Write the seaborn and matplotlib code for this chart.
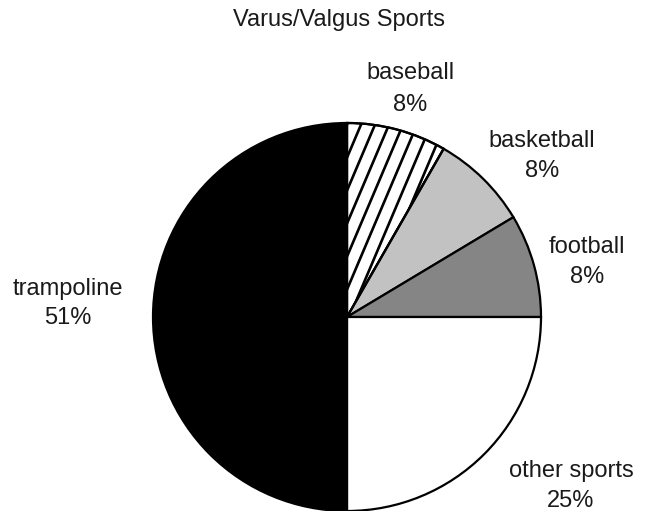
import matplotlib
matplotlib.use("Agg")
import matplotlib.pyplot as plt
import matplotlib.patches as mpatches
import numpy as np
import seaborn as sns

sns.set_theme(style="white")
plt.rcParams['font.family'] = ['Liberation Sans', 'DejaVu Sans']

categories = ["baseball", "basketball", "football", "other sports", "trampoline"]
shares = [8.3, 8.1, 8.6, 25.0, 50.0]
pct_labels = ["8%", "8%", "8%", "25%", "51%"]
colors = ["white", "#c2c2c2", "#858585", "white", "black"]

W, H = 650, 511
fig = plt.figure(figsize=(W / 100, H / 100), dpi=100)
ax = fig.add_axes([0, 0, 1, 1])

cx, cy, r = 347, H - 317, 194
wedges, _ = ax.pie(shares, colors=colors, startangle=90, counterclock=False,
                   center=(cx, cy), radius=r,
                   wedgeprops=dict(edgecolor='black', linewidth=1.6),
                   frame=True)
ax.set_xlim(0, W)
ax.set_ylim(0, H)
ax.set_aspect('equal')
ax.axis('off')

# steep diagonal hatching for the baseball wedge, clipped to the wedge
ang = np.deg2rad(67)
dx_span = 2 * r / np.tan(ang)
z0 = wedges[0].get_zorder()
for x0 in np.arange(cx - 2 * r, cx + r, 14.0):
    line, = ax.plot([x0, x0 + dx_span], [cy - r, cy + r], color='black', lw=1.9,
                    zorder=z0 + 0.1, solid_capstyle='butt')
    line.set_clip_path(wedges[0])
outline = mpatches.Wedge((cx, cy), r, wedges[0].theta1, wedges[0].theta2,
                         facecolor='none', edgecolor='black', lw=1.6, zorder=z0 + 0.2)
ax.add_patch(outline)

fs = 17
ax.text(339, H - 26, "Varus/Valgus Sports", ha='center', va='baseline', fontsize=fs, color='#1a1a1a')

# label anchor positions (x center, name baseline y, pct baseline y) in pixel coords
label_pos = {
    "baseball": (410, 79, 111),
    "basketball": (542, 147, 177),
    "football": (587, 253, 283),
    "other sports": (571, 477, 507),
    "trampoline": (68, 295, 324),
}
for cat, pct in zip(categories, pct_labels):
    x, y1, y2 = label_pos[cat]
    ax.text(x, H - y1, cat, ha='center', va='baseline', fontsize=fs, color='#1a1a1a')
    ax.text(x, H - y2, pct, ha='center', va='baseline', fontsize=fs, color='#1a1a1a')

fig.savefig("out.png", dpi=100)
